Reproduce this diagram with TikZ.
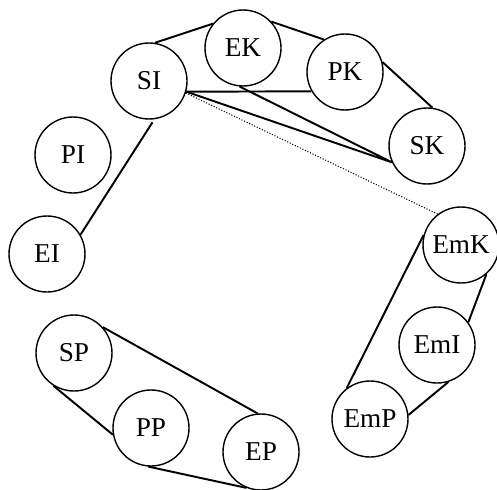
\documentclass[tikz,border=0pt]{standalone}
\usepackage{fontspec}
\setmainfont{Liberation Serif}

\begin{document}
\begin{tikzpicture}[
  stage/.style={circle,draw,line width=0.8pt,minimum size=1.52cm,inner sep=0pt,font=\fontsize{15.5}{18}\selectfont},
  link/.style={line width=1.1pt}]
\useasboundingbox (0,0) rectangle (9.94,9.78);
\node[stage] (SI) at (2.98,8.16) {SI};
\node[stage] (EK) at (4.86,8.82) {EK};
\node[stage] (PK) at (6.90,8.34) {PK};
\node[stage] (SK) at (8.54,6.86) {SK};
\node[stage] (PI) at (1.46,6.68) {PI};
\node[stage] (EI) at (0.94,4.70) {EI};
\node[stage] (EmK) at (9.22,4.88) {EmK};
\node[stage] (EmI) at (8.74,2.88) {EmI};
\node[stage] (EmP) at (7.40,1.40) {EmP};
\node[stage] (SP) at (1.48,2.72) {SP};
\node[stage] (PP) at (3.02,1.22) {PP};
\node[stage] (EP) at (5.22,0.74) {EP};
\draw[link] (SI.81) -- (EK.141);
\draw[link] (EK.43) -- (PK.123);
\draw[link] (SI.-16) -- (PK.210);
\draw[link] (SI.-16) -- (SK.205);
\draw[link] (EK.-95) -- (SK.205);
\draw[link] (PK.15) -- (SK.82);
\draw[densely dotted,line width=0.6pt] (SI.-18) -- (EmK.127);
\draw[link,shorten <=2pt] (SI.-82) -- (EI.30);
\draw[link] (EmK.165) -- (EmP.127);
\draw[link] (EmK.-49) -- (EmI.36);
\draw[link] (EmI.-73) -- (EmP.6);
\draw[link] (SP.42) -- (EP.95);
\draw[link] (SP.-122) -- (PP.190);
\draw[link] (PP.-94) -- (EP.-112);
\end{tikzpicture}
\end{document}
